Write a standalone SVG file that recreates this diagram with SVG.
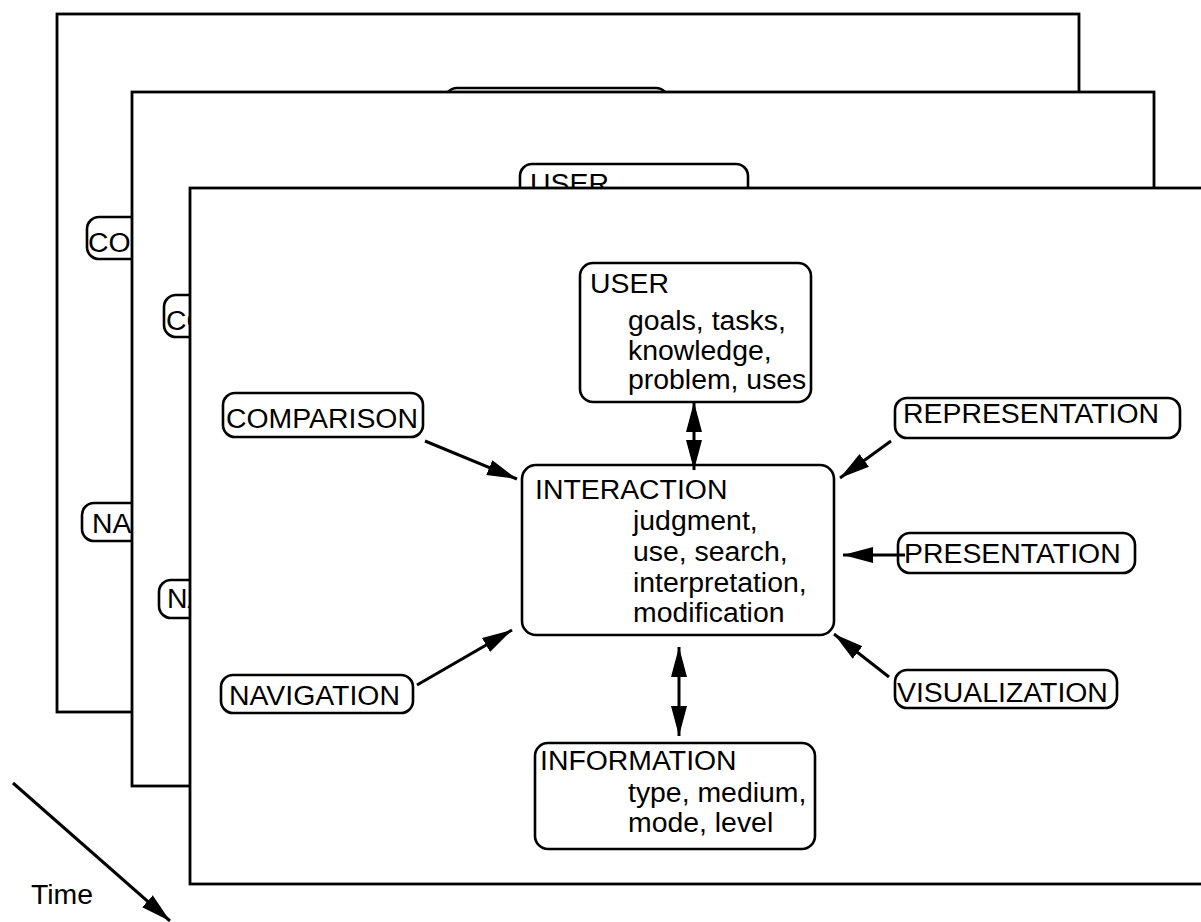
<svg xmlns="http://www.w3.org/2000/svg" width="1201" height="922" viewBox="0 0 1201 922">
<style>
  .frame { fill: #ffffff; stroke: #000000; stroke-width: 2.8; }
  .box { fill: #ffffff; stroke: #000000; stroke-width: 2.6; }
  .t { font-family: "Liberation Sans", Arial, Helvetica, sans-serif; font-size: 28.4px; fill: #000000; }
  .c { stroke: #000000; stroke-width: 3; fill: none; }
</style>
<defs>
  <marker id="ah" markerUnits="userSpaceOnUse" markerWidth="32" markerHeight="18" refX="30" refY="8" orient="auto-start-reverse">
    <path d="M0,0 L30,8 L0,16 z" fill="#000000"/>
  </marker>
</defs>
<rect width="1201" height="922" fill="#ffffff"/>

<!-- Frame 1 (back) -->
<g id="frame1">
  <rect class="frame" x="57" y="14" width="1022" height="698"/>
  <g id="f1-comparison"><rect class="box" x="87" y="217" width="120" height="42" rx="12"/><text class="t" x="88" y="252">CO</text></g>
  <g id="f1-navigation"><rect class="box" x="82" y="503" width="120" height="38" rx="12"/><text class="t" x="92" y="533">NA</text></g>
  <g id="f1-user"><rect class="box" x="445" y="88" width="223" height="139" rx="12"/></g>
</g>

<!-- Frame 2 (middle) -->
<g id="frame2">
  <rect class="frame" x="132" y="92" width="1022" height="694"/>
  <g id="f2-comparison"><rect class="box" x="164" y="295" width="120" height="42" rx="12"/><text class="t" x="166" y="330">CO</text></g>
  <g id="f2-navigation"><rect class="box" x="159" y="580" width="120" height="38" rx="12"/><text class="t" x="167" y="608">NA</text></g>
  <g id="f2-user"><rect class="box" x="520" y="164" width="228" height="139" rx="12"/><text class="t" x="530" y="193">USER</text></g>
</g>

<!-- Frame 3 (front) -->
<g id="frame3">
  <rect class="frame" x="190" y="188" width="1040" height="696"/>
</g>

<g id="user">
  <rect class="box" x="580" y="263" width="231" height="139" rx="13"/>
  <text class="t" x="590" y="293">USER</text>
  <text class="t" x="628" y="330">goals, tasks,</text>
  <text class="t" x="628" y="360">knowledge,</text>
  <text class="t" x="628" y="389">problem, uses</text>
</g>

<g id="interaction">
  <rect class="box" x="522" y="465" width="312" height="170" rx="14"/>
  <text class="t" x="535" y="499">INTERACTION</text>
  <text class="t" x="633" y="530">judgment,</text>
  <text class="t" x="633" y="561">use, search,</text>
  <text class="t" x="633" y="592">interpretation,</text>
  <text class="t" x="633" y="622">modification</text>
</g>

<g id="information">
  <rect class="box" x="535" y="743" width="280" height="106" rx="13"/>
  <text class="t" x="540" y="770">INFORMATION</text>
  <text class="t" x="628" y="802">type, medium,</text>
  <text class="t" x="628" y="832">mode, level</text>
</g>

<g id="comparison">
  <rect class="box" x="223" y="393" width="200" height="44" rx="12"/>
  <text class="t" x="226" y="428">COMPARISON</text>
</g>

<g id="navigation">
  <rect class="box" x="221" y="675" width="192" height="38" rx="12"/>
  <text class="t" x="229" y="705">NAVIGATION</text>
</g>

<g id="representation">
  <rect class="box" x="895" y="398" width="285" height="40" rx="12"/>
  <text class="t" x="903" y="423">REPRESENTATION</text>
</g>

<g id="presentation">
  <rect class="box" x="898" y="533" width="237" height="40" rx="12"/>
  <text class="t" x="904" y="563">PRESENTATION</text>
</g>

<g id="visualization">
  <rect class="box" x="895" y="670" width="222" height="38" rx="12"/>
  <text class="t" x="897" y="702">VISUALIZATION</text>
</g>

<g id="time-label">
  <text class="t" x="31" y="904">Time</text>
</g>

<g id="connectors">
  <line class="c" x1="425" y1="441" x2="517" y2="479" marker-end="url(#ah)"/>
  <line class="c" x1="417" y1="685" x2="512" y2="630" marker-end="url(#ah)"/>
  <line class="c" x1="891" y1="441" x2="840" y2="478" marker-end="url(#ah)"/>
  <line class="c" x1="905" y1="555" x2="843" y2="555" marker-end="url(#ah)"/>
  <line class="c" x1="889" y1="677" x2="834" y2="634" marker-end="url(#ah)"/>
  <line class="c" x1="694" y1="402" x2="694" y2="470" marker-start="url(#ah)" marker-end="url(#ah)"/>
  <line class="c" x1="679" y1="647" x2="679" y2="736" marker-start="url(#ah)" marker-end="url(#ah)"/>
  <line class="c" x1="13" y1="783" x2="170" y2="921" marker-end="url(#ah)"/>
</g>
</svg>
